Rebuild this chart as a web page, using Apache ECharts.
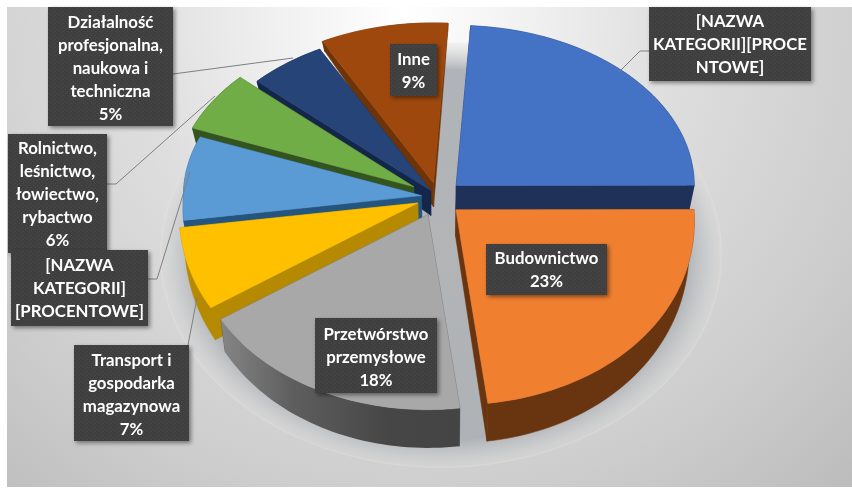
<!DOCTYPE html>
<html><head><meta charset="utf-8">
<style>html,body{margin:0;padding:0;background:#fff}#c{width:852px;height:489px}</style>
<script src="https://cdn.jsdelivr.net/npm/echarts@6/dist/echarts.min.js"></script>
</head><body><div id="c"></div>
<script>
// ---- data ----
const categories = ['[NAZWA KATEGORII]','Budownictwo','Przetwórstwo przemysłowe','Transport i gospodarka magazynowa','[NAZWA KATEGORII]','Rolnictwo, leśnictwo, łowiectwo, rybactwo','Działalność profesjonalna, naukowa i techniczna','Inne'];
const values = [24,23,18,7,8,6,5.3,8.7];
const labelLines = [
  ['[NAZWA','KATEGORII][PROCE','NTOWE]'],
  ['Budownictwo','23%'],
  ['Przetwórstwo','przemysłowe','18%'],
  ['Transport i','gospodarka','magazynowa','7%'],
  ['[NAZWA','KATEGORII]','[PROCENTOWE]'],
  ['Rolnictwo,','leśnictwo,','łowiectwo,','rybactwo','6%'],
  ['Działalność','profesjonalna,','naukowa i','techniczna','5%'],
  ['Inne','9%']
];
// ---- styles / layout ----
const topColors  = ['#4472c4','#f07f30','#a8a8a8','#ffc000','#5b9bd5','#70ad47','#264478','#9e480e'];
const sideColors = ['#1f3158','#693510','#555555','#b58900','#24557f','#33541f','#14264a','#6e3408'];
const explode    = [.105,.1,.1,.09,.07,.12,.05,.09];
const paintOrder = [7,6,5,4,0,3,1,2];   // index -> painted back to front
const startAngle = 3.5, cx = 438, cy = 197, rx = 238, rxBoost = 14, ryTop = 160, ryBottom = 195;
// box: [x, y, w, h, firstLineY]; paint order follows labelOrder
const boxes = [
  [649,7,162,74,22],[486,244,121,51,259],[315,318,122,75,335],[74,345,115,96,361],
  [11,250,137,76,266],[8,134,99,119,149],[48,7,125,119,23],[390,44,47,52,60]
];
const labelOrder = [0,1,2,3,5,4,6,7];
const leaders = [
  [[619,72],[640,51],[649,51]],
  [[173,74],[293,58]],
  [[107,184],[116,184],[215,96]],
  [[148,279],[157,279],[190,172]],
  [[188,345],[197,298]]
];
const rad = d => d*Math.PI/180;
const pt = (a, o) => {
  const c = Math.cos(rad(a));
  return [o[0]+(rx+rxBoost*Math.max(0,-c))*Math.sin(rad(a)), o[1]-(c>0?ryTop:ryBottom)*c];
};
const drop = p => {
  const y = p[1];
  const t = y<197 ? 25.5+(y-197)*0.1 : 25.5+(y-197)*0.06;
  return [p[0]+(438-p[0])*0.02, y+t];
};
const total = values.reduce((a,b)=>a+b,0);
const slices = []; let acc = startAngle;
values.forEach((v,i)=>{
  const a0 = acc, a1 = acc + v/total*360; acc = a1;
  const m = (a0+a1)/2, c = Math.cos(rad(m));
  const o = [cx+explode[i]*rx*Math.sin(rad(m)), cy-explode[i]*(c>0?ryTop:ryBottom)*c];
  const arc = [];
  for(let a=a0;a<a1;a+=1.5) arc.push(pt(a,o));
  arc.push(pt(a1,o));
  slices.push({o,arc});
});
// dotted texture for label boxes
const tile = document.createElement('canvas'); tile.width=tile.height=4;
const g = tile.getContext('2d'); g.fillStyle='#3f3f3f'; g.fillRect(0,0,4,4);
g.fillStyle='#4a4a4a'; g.fillRect(1,1,1,1); g.fillRect(3,3,1,1);

const pieSeries = {
  type:'custom', coordinateSystem:'none', silent:true, z:3,
  data: values.map((v,i)=>[i,v]),
  renderItem(params){
    const i = params.dataIndex, s = slices[i], z = paintOrder.indexOf(i)*3+1;
    const bottom = s.arc.map(drop), oB = drop(s.o), side = sideColors[i];
    let wallFill = side;
    if(i===2) wallFill = new echarts.graphic.LinearGradient(0,0,1,0,[{offset:0,color:'#858585'},{offset:.3,color:'#5e5e5e'},{offset:.7,color:'#464646'},{offset:1,color:'#444444'}]);
    const poly = (pts,fill,zz)=>({type:'polygon',z2:zz,shape:{points:pts},style:{fill,stroke:fill===side||fill===topColors[i]?fill:null,lineWidth:.5}});
    const children = [
      poly([s.o,s.arc[0],bottom[0],oB],side,z),
      poly([s.o,s.arc[s.arc.length-1],bottom[bottom.length-1],oB],side,z),
      poly(s.arc.concat(bottom.slice().reverse()),wallFill,z),
      poly([s.o].concat(s.arc),topColors[i],z+1)
    ];
    return {type:'group',children};
  }
};
const shadowSeries = {
  type:'custom', coordinateSystem:'none', silent:true, z:2,
  data:[[0]],
  renderItem(){
    return {type:'circle',x:441,y:255,scaleY:.757,shape:{cx:0,cy:0,r:281},
      style:{fill:new echarts.graphic.RadialGradient(.5,.5,.5,[
        {offset:0,color:'rgba(176,178,180,.95)'},{offset:.87,color:'rgba(172,176,180,.95)'},
        {offset:.94,color:'rgba(190,193,196,.55)'},{offset:.99,color:'rgba(215,215,215,.3)'},{offset:1,color:'rgba(232,232,232,.4)'}])}};
  }
};
const leaderSeries = {
  type:'custom', coordinateSystem:'none', silent:true, z:4,
  data: leaders.map((l,i)=>[i]),
  renderItem(p){
    return {type:'polyline',shape:{points:leaders[p.dataIndex]},style:{fill:null,stroke:'#7f7f7f',lineWidth:1}};
  }
};
const labelSeries = {
  type:'custom', coordinateSystem:'none', silent:true, z:5,
  data: labelOrder.map(i=>[i]),
  renderItem(p){
    const k = p.dataIndex, i = labelOrder[k], b = boxes[i];
    const children = [{type:'rect',z2:k*2,shape:{x:b[0],y:b[1],width:b[2],height:b[3]},
      style:{fill:{image:tile,repeat:'repeat'},shadowColor:'rgba(0,0,0,.45)',shadowBlur:4,shadowOffsetX:2,shadowOffsetY:2}}];
    labelLines[i].forEach((t,j)=>{
      children.push({type:'text',z2:k*2+1,x:b[0]+b[2]/2,y:b[4]+j*23,
        style:{text:t,fill:'#fff',font:'700 16.8px Lato, "Open Sans", sans-serif',align:'center',verticalAlign:'middle'}});
    });
    return {type:'group',children};
  }
};
const chart = echarts.init(document.getElementById('c'),null,{renderer:'canvas'});
chart.setOption({
  animation:false,
  backgroundColor:'#fff',
  graphic:[{type:'rect',z:0,shape:{x:7,y:7,width:845,height:480},
    style:{fill:new echarts.graphic.RadialGradient(.47,.02,1.35,[
      {offset:0,color:'#ffffff'},{offset:.2,color:'#f0f0f0'},{offset:.42,color:'#dedede'},{offset:.75,color:'#cdcdcd'},{offset:1,color:'#bcbcbc'}])}}],
  series:[shadowSeries,pieSeries,leaderSeries,labelSeries]
});
</script></body></html>
